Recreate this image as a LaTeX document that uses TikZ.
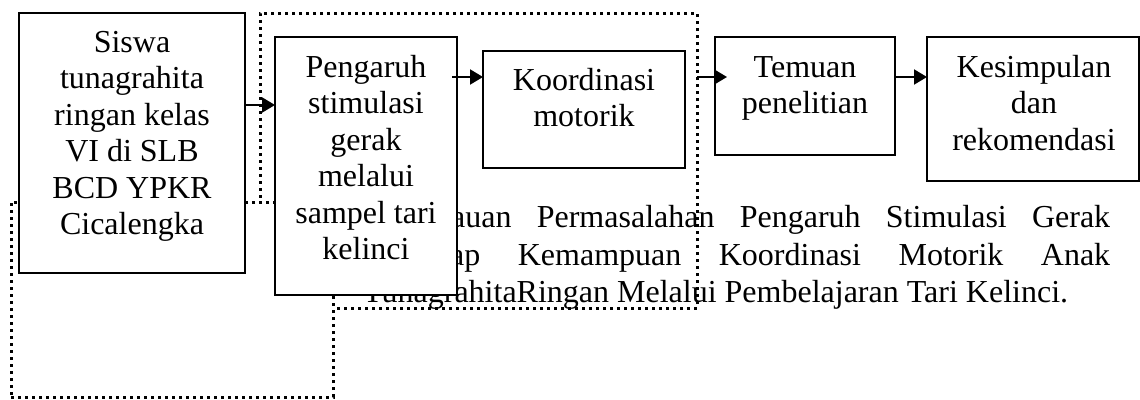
\documentclass[tikz,border=0pt]{standalone}
\usepackage{fontspec}
\setmainfont{Liberation Serif}
\usetikzlibrary{arrows.meta}
\begin{document}
\begin{tikzpicture}[x=1pt,y=-1pt,
  boxnode/.style={draw, line width=2pt, fill=white, inner sep=0pt, outer sep=0pt, anchor=north west, rectangle},
  dotbox/.style={draw, line width=3pt, dash pattern=on 3pt off 4pt, inner sep=0pt, outer sep=0pt, anchor=north west, rectangle},
  txtnode/.style={inner sep=0pt, anchor=base, font=\fontsize{32}{36.5}\selectfont},
  partxt/.style={inner sep=0pt, anchor=base west, font=\fontsize{32}{37}\selectfont},
  arr/.style={line width=2pt, -{Triangle[length=13pt,width=15pt]}}]
\useasboundingbox (0,0) rectangle (1140,399);

% upper dotted frame
\node[dotbox, minimum width=437pt, minimum height=295pt] (dA) at (260,13) {};

% caption paragraph (partly hidden by the boxes)
\node[partxt] (p1) at (451,227) {\makebox[659pt][s]{auan Permasalahan Pengaruh Stimulasi Gerak}};
\node[partxt] (p2) at (450,265) {\makebox[660pt][s]{ap Kemampuan Koordinasi Motorik Anak}};
\node[partxt] (p3) at (363,302) {TunagrahitaRingan Melalui Pembelajaran Tari Kelinci.};

% lower dotted frame (white filled)
\node[dotbox, fill=white, minimum width=322pt, minimum height=195pt] (dB) at (11,202) {};

% boxes
\node[boxnode, minimum width=226pt, minimum height=260pt] (b1) at (19,13) {};
\node[boxnode, minimum width=182pt, minimum height=258pt] (b2) at (275,37) {};
\node[boxnode, minimum width=202pt, minimum height=117pt] (b3) at (483,51) {};
\node[boxnode, minimum width=180pt, minimum height=118pt] (b4) at (715,37) {};
\node[boxnode, minimum width=212pt, minimum height=144pt] (b5) at (927,37) {};

% box texts
\node[txtnode] (t1) at (132,52) {\parbox[t]{210pt}{\centering Siswa\\ tunagrahita\\ ringan kelas\\ VI di SLB\\ BCD YPKR\\ Cicalengka}};
\node[txtnode] (t2) at (366,77) {\parbox[t]{176pt}{\centering Pengaruh\\ stimulasi\\ gerak\\ melalui\\ sampel tari\\ kelinci}};
\node[txtnode] (t3) at (584,90) {\parbox[t]{190pt}{\centering Koordinasi\\ motorik}};
\node[txtnode] (t4) at (805,77) {\parbox[t]{170pt}{\centering Temuan\\ penelitian}};
\node[txtnode] (t5) at (1034,77) {\parbox[t]{200pt}{\centering Kesimpulan\\ dan\\ rekomendasi}};

% arrows
\coordinate (ya) at (0,105);
\coordinate (yb) at (0,77);
\coordinate (c3) at ([xshift=12pt]b4.west);
\draw[arr] (b1.east |- ya) -- (b2.west |- ya);
\draw[arr] ([xshift=-5pt]b2.east |- yb) -- (b3.west |- yb);
\draw[arr] (dA.east |- yb) -- (c3 |- yb);
\draw[arr] (b4.east |- yb) -- (b5.west |- yb);
\end{tikzpicture}
\end{document}
